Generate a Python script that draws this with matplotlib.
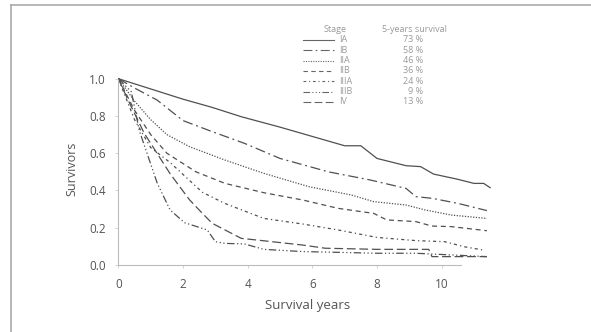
import matplotlib
matplotlib.use('Agg')
import matplotlib.pyplot as plt
from matplotlib.lines import Line2D

stages = ['IA', 'IB', 'IIA', 'IIB', 'IIIA', 'IIIB', 'IV']
survival_5y = ['73 %', '58 %', '46 %', '36 %', '24 %', '9 %', '13 %']

x_ia = [0, 1, 2, 2.9, 3.8, 5, 6, 7, 7.5, 8.0, 8.9, 9.35, 9.75, 10.5, 11.0, 11.3, 11.5]
y_ia = [1.0, 0.945, 0.89, 0.846, 0.796, 0.74, 0.69, 0.64, 0.64, 0.572, 0.533, 0.528, 0.488, 0.46, 0.438, 0.438, 0.415]
x_ib = [0, 0.5, 1.2, 2.0, 2.9, 3.9, 5.0, 6.5, 7.8, 8.9, 9.2, 9.7, 10.5, 11.4]
y_ib = [1.0, 0.95, 0.885, 0.775, 0.716, 0.653, 0.572, 0.5, 0.456, 0.411, 0.367, 0.358, 0.331, 0.292]
x_iia = [0, 0.5, 1.0, 1.5, 2.2, 3.3, 4.5, 5.9, 7.2, 7.9, 8.9, 9.5, 10.3, 11.4]
y_iia = [1.0, 0.88, 0.78, 0.70, 0.635, 0.563, 0.492, 0.42, 0.376, 0.34, 0.322, 0.295, 0.268, 0.25]
x_iib = [0, 0.5, 1.0, 1.5, 2.4, 3.3, 4.5, 5.7, 6.8, 7.9, 8.3, 9.2, 9.7, 10.3, 11.4]
y_iib = [1.0, 0.83, 0.7, 0.6, 0.50, 0.438, 0.388, 0.349, 0.304, 0.277, 0.242, 0.233, 0.209, 0.206, 0.184]
x_iiia = [0, 0.5, 1.0, 1.6, 2.6, 3.3, 4.5, 5.7, 6.8, 8.0, 9.2, 10.1, 10.7, 11.3]
y_iiia = [1.0, 0.78, 0.63, 0.55, 0.39, 0.33, 0.25, 0.22, 0.188, 0.148, 0.131, 0.125, 0.098, 0.08]
x_iiib = [0, 0.4, 0.65, 1.2, 1.6, 2.05, 2.75, 3.0, 3.3, 3.9, 4.5, 5.7, 6.8, 8.0, 9.2, 11.4]
y_iiib = [1.0, 0.93, 0.72, 0.44, 0.295, 0.227, 0.188, 0.125, 0.116, 0.113, 0.084, 0.072, 0.068, 0.063, 0.063, 0.045]
x_iv = [0, 0.3, 0.8, 1.6, 2.2, 2.6, 2.9, 3.8, 4.5, 5.7, 6.4, 8.0, 9.6, 9.7, 11.4]
y_iv = [1.0, 0.885, 0.707, 0.49, 0.35, 0.277, 0.224, 0.143, 0.13, 0.107, 0.09, 0.084, 0.084, 0.045, 0.045]

xs = [x_ia, x_ib, x_iia, x_iib, x_iiia, x_iiib, x_iv]
ys = [y_ia, y_ib, y_iia, y_iib, y_iiia, y_iiib, y_iv]
styles = ['-', (0, (8, 3, 1.5, 3)), (0, (1, 1.2)), (0, (4, 3)),
          (0, (2.5, 2.5, 1, 2.5)), (0, (6, 2, 1, 2, 1, 2, 1, 2)), (0, (7, 3))]

ink = '#505050'
plt.rcParams['font.family'] = ['Open Sans', 'DejaVu Sans']

fig = plt.figure(figsize=(5.91, 3.32), dpi=100)
ax = fig.add_axes([0.2003, 0.2018, 0.640, 0.578])

for x, y, ls in zip(xs, ys, styles):
    ax.plot(x, y, color=ink, lw=0.9, linestyle=ls)

ax.set_xlim(0, 11.7)
ax.set_ylim(0, 1.03)
ax.set_xticks([0, 2, 4, 6, 8, 10])
ax.set_yticks([0.0, 0.2, 0.4, 0.6, 0.8, 1.0])
ax.set_yticklabels(['0.0', '0.2', '0.4', '0.6', '0.8', '1.0'])
for s in ['top', 'right']:
    ax.spines[s].set_visible(False)
for s in ['left', 'bottom']:
    ax.spines[s].set_color('#bbbbbb')
    ax.spines[s].set_linestyle((0, (1, 1)))
    ax.spines[s].set_linewidth(0.8)
ax.spines['left'].set_bounds(0, 1.0)
ax.spines['bottom'].set_bounds(0, 10.6)
ax.tick_params(length=2, width=0.6, color='#cccccc', labelcolor='#555555', labelsize=8.5, pad=7)
ax.set_xlabel('Survival years', color='#555555', fontsize=9.5, labelpad=6)
ax.set_ylabel('Survivors', color='#555555', fontsize=9, labelpad=8)

# legend drawn as a small table
W, H = 591, 332
light = '#999999'
fs = 6.5
fig.text(335 / W, 1 - 29 / H, 'Stage', color=light, fontsize=fs, ha='center', va='center')
fig.text(414 / W, 1 - 29 / H, '5-years survival', color=light, fontsize=fs, ha='center', va='center')
for i, (st, pc, ls) in enumerate(zip(stages, survival_5y, styles)):
    yy = 1 - (40 + i * 10.3) / H
    fig.add_artist(Line2D([303 / W, 334 / W], [yy, yy], color='#666666', lw=0.8, linestyle=ls))
    fig.text(339 / W, yy, st, color=light, fontsize=fs, ha='left', va='center')
    fig.text(423 / W, yy, pc, color=light, fontsize=fs, ha='right', va='center')

# picture frame
fig.add_artist(Line2D([11 / W, 1], [1 - 5 / H, 1 - 5 / H], color='#aaaaaa', lw=1.2))
fig.add_artist(Line2D([11 / W, 11 / W], [0, 1 - 5 / H], color='#aaaaaa', lw=1.2))

fig.savefig('out.png', dpi=100)
